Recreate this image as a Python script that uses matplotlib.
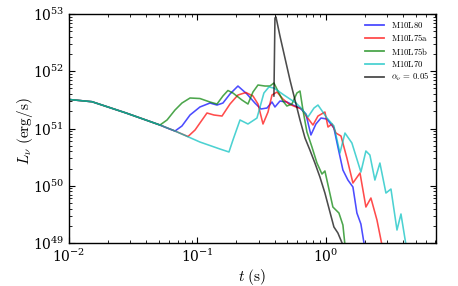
import matplotlib
matplotlib.use("Agg")
import matplotlib.pyplot as plt
import numpy as np

# log10 of t (s) and log10 of L_nu (erg/s)
COMMON_LOGT = [-2.000, -1.821, -1.556, -1.292]
COMMON_LOGL = [51.507, 51.468, 51.271, 51.061]

L70_LOGT = [-1.175, -0.981, -0.825, -0.755, -0.724, -0.669, -0.607, -0.537,
            -0.483, -0.444, -0.405, -0.327, -0.233, -0.187, -0.140, -0.093,
            -0.062, 0.008, 0.062, 0.109, 0.148, 0.202, 0.272, 0.311, 0.342,
            0.381, 0.420, 0.467, 0.506, 0.553, 0.584, 0.623]
L70_LOGL = [50.956, 50.764, 50.642, 50.590, 50.799, 51.149, 51.079, 51.183,
            51.620, 51.725, 51.707, 51.585, 51.445, 51.341, 51.201, 51.358,
            51.410, 51.183, 51.044, 50.572, 50.921, 50.747, 50.240, 50.607, 50.537,
            50.100, 50.397, 49.873, 49.943, 49.227, 49.507, 48.965]

L80_LOGT = [-1.237, -1.175, -1.121, -1.058, -0.981, -0.903, -0.848, -0.802,
            -0.747, -0.685, -0.615, -0.553, -0.506, -0.459, -0.420, -0.397,
            -0.358, -0.304, -0.257, -0.202, -0.156, -0.117, -0.078, -0.039,
            0.008, 0.062, 0.093, 0.132, 0.171, 0.210, 0.241, 0.272, 0.296, 0.304]
L80_LOGL = [51.009, 50.956, 51.044, 51.236, 51.376, 51.445, 51.410, 51.445,
            51.603, 51.742, 51.603, 51.445, 51.341, 51.358, 51.463, 51.376,
            51.480, 51.463, 51.410, 51.358, 51.253, 50.887, 51.079, 51.183,
            51.166, 51.009, 50.677, 50.275, 50.100, 49.978, 49.524, 49.332, 49.0, 48.91]

L75A_LOGT = [-1.175, -1.074, -1.019, -0.981, -0.926, -0.872, -0.809, -0.747,
             -0.685, -0.623, -0.568, -0.529, -0.490, -0.451, -0.420, -0.381,
             -0.335, -0.288, -0.233, -0.187, -0.148, -0.101, -0.062, -0.008,
             0.016, 0.047, 0.078, 0.117, 0.163, 0.210, 0.265, 0.311, 0.350,
             0.397, 0.436]
L75A_LOGL = [50.956, 50.860, 50.974, 51.096, 51.271, 51.236, 51.218, 51.428,
             51.585, 51.629, 51.568, 51.428, 51.079, 51.288, 51.585, 51.638,
             51.515, 51.428, 51.376, 51.341, 51.201, 51.061, 51.218, 51.288,
             51.026, 51.079, 50.921, 50.869, 50.485, 50.048, 50.223, 49.629, 49.786,
             49.402, 48.965]

L75B_LOGT = [-1.237, -1.175, -1.121, -1.058, -0.981, -0.903, -0.848, -0.802,
             -0.763, -0.724, -0.654, -0.607, -0.568, -0.529, -0.475, -0.436,
             -0.405, -0.374, -0.335, -0.304, -0.265, -0.226, -0.202, -0.179,
             -0.148, -0.109, -0.070, -0.031, -0.008, 0.023, 0.054, 0.101, 0.132,
             0.148]
L75B_LOGL = [51.149, 51.323, 51.445, 51.533, 51.524, 51.463, 51.428, 51.568,
             51.664, 51.620, 51.498, 51.428, 51.638, 51.760, 51.742, 51.742,
             51.795, 51.655, 51.480, 51.393, 51.428, 51.620, 51.655, 51.323,
             50.939, 50.677, 50.397, 50.205, 50.258, 49.943, 49.629, 49.524, 49.314,
             48.965]

ALPHA_LOGT = [-0.405, -0.397, -0.389, -0.358, -0.319, -0.280, -0.241, -0.202,
              -0.163, -0.125, -0.086, -0.047, -0.008, 0.031, 0.062, 0.093, 0.132]
ALPHA_LOGL = [51.568, 52.930, 52.948, 52.616, 52.231, 51.847, 51.498, 51.149,
              50.834, 50.624, 50.397, 50.153, 49.873, 49.542, 49.280, 49.175, 48.965]

SERIES = [
    (r"$\mathrm{M10L80}$", "b", COMMON_LOGT + L80_LOGT, COMMON_LOGL + L80_LOGL),
    (r"$\mathrm{M10L75a}$", "r", COMMON_LOGT + L75A_LOGT, COMMON_LOGL + L75A_LOGL),
    (r"$\mathrm{M10L75b}$", "g", COMMON_LOGT + L75B_LOGT, COMMON_LOGL + L75B_LOGL),
    (r"$\mathrm{M10L70}$", "c", COMMON_LOGT + L70_LOGT, COMMON_LOGL + L70_LOGL),
    (r"$\alpha_\nu\,=\,0.05$", "k", ALPHA_LOGT, ALPHA_LOGL),
]

plt.rcParams["mathtext.fontset"] = "cm"
plt.rcParams["font.family"] = "serif"
plt.rcParams["font.serif"] = ["DejaVu Serif"]

fig = plt.figure(figsize=(4.58, 2.86), dpi=100)
ax = fig.add_axes([0.1507, 0.1503, 0.8006, 0.8007])

for label, color, logt, logl in SERIES:
    t = 10.0 ** np.array(logt)
    lum = 10.0 ** np.array(logl)
    ax.plot(t, lum, color=color, alpha=0.7, lw=1.15, label=label,
            solid_joinstyle="round")

ax.set_xscale("log")
ax.set_yscale("log")
ax.set_xlim(1e-2, 7.15)
ax.set_ylim(1e49, 1e53)
ax.tick_params(which="both", direction="in", top=True, right=True, labelsize=10)
ax.tick_params(which="major", length=4.5, width=0.8)
ax.tick_params(which="minor", length=2.2, width=0.6)
ax.xaxis.set_minor_locator(matplotlib.ticker.LogLocator(base=10, subs=np.arange(2, 10), numticks=20))
ax.yaxis.set_minor_locator(matplotlib.ticker.LogLocator(base=10, subs=np.arange(2, 10), numticks=20))
ax.xaxis.set_minor_formatter(matplotlib.ticker.NullFormatter())
ax.yaxis.set_minor_formatter(matplotlib.ticker.NullFormatter())
for s in ax.spines.values():
    s.set_linewidth(1.0)

ax.set_xlabel(r"$t\ \mathrm{(s)}$", fontsize=11, labelpad=1)
ax.set_ylabel(r"$L_\nu\ \mathrm{(erg/s)}$", fontsize=11)
ax.yaxis.set_label_coords(-0.093, 0.49)

leg = ax.legend(loc="upper right", frameon=False, fontsize=6.3, handlelength=2.2,
                labelspacing=0.25, borderaxespad=0.3, handletextpad=0.8)
for line in leg.get_lines():
    line.set_linewidth(1.3)

fig.savefig("out.png", dpi=100)
